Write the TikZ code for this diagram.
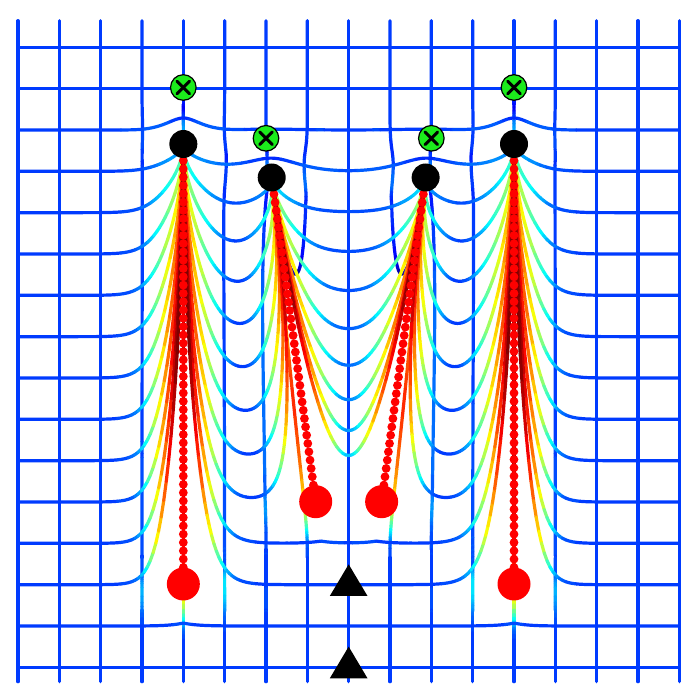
\documentclass[tikz,border=0pt]{standalone}
\definecolor{gmgreen}{RGB}{28,236,28}
\tikzset{
  blackdisc/.style={circle,fill=black,inner sep=0pt,minimum size=14pt},
  reddisc/.style={circle,fill=red,inner sep=0pt,minimum size=16.5pt},
  greendisc/.style={circle,fill=gmgreen,draw=black,line width=0.6pt,inner sep=0pt,minimum size=12.8pt},
  crossline/.style={line width=1.5pt,line cap=round},
  bead/.style={fill=red},
  marktri/.style={fill=black}
}
\newcount\gmN
\newcount\gmI
\newif\ifgmfirst
\newif\ifgmrun
\def\gmset#1#2{\expandafter\def\csname #1\endcsname{#2}}
\def\gmsetx#1#2{\expandafter\edef\csname #1\endcsname{#2}}
\def\gmv#1#2{\csname gm#1#2\endcsname}

% jet colours
\gmI=0
\loop
  \pgfmathsetmacro\gmr{max(0,min(1,1.5-abs(4*\the\gmI/60-3)))}%
  \pgfmathsetmacro\gmg{max(0,min(1,1.5-abs(4*\the\gmI/60-2)))}%
  \pgfmathsetmacro\gmb{max(0,min(1,1.5-abs(4*\the\gmI/60-1)))}%
  \edef\gmdo{\noexpand\definecolor{gmjet\the\gmI}{rgb}{\gmr,\gmg,\gmb}}\gmdo
\ifnum\gmI<60 \advance\gmI by 1 \repeat

% fingers: tip (tx,ty), shear kap, mean core c, captured rows Ya..Yb, reach widths, tail widths
\gmset{gmtx1}{183.33}\gmset{gmty1}{144}\gmset{gmkap1}{0}\gmset{gmc1}{183.33}\gmset{gmYa1}{171.33}\gmset{gmYb1}{584.67}
\gmset{gmwLa1}{25}\gmset{gmwLb1}{14}\gmset{gmwRa1}{25}\gmset{gmwRb1}{14}\gmset{gmWL1}{45}\gmset{gmWR1}{75}
\gmset{gmtx2}{271.7}\gmset{gmty2}{177.5}\gmset{gmkap2}{0.13572}\gmset{gmc2}{296}\gmset{gmYa2}{212.67}\gmset{gmYb2}{502}
\gmset{gmwLa2}{23}\gmset{gmwLb2}{15}\gmset{gmwRa2}{17}\gmset{gmwRb2}{12.5}\gmset{gmWL2}{75}\gmset{gmWR2}{1000}
\gmset{gmtx3}{425.63}\gmset{gmty3}{177.5}\gmset{gmkap3}{-0.13572}\gmset{gmc3}{401.33}\gmset{gmYa3}{212.67}\gmset{gmYb3}{502}
\gmset{gmwLa3}{17}\gmset{gmwLb3}{12.5}\gmset{gmwRa3}{23}\gmset{gmwRb3}{15}\gmset{gmWL3}{1000}\gmset{gmWR3}{75}
\gmset{gmtx4}{514}\gmset{gmty4}{144}\gmset{gmkap4}{0}\gmset{gmc4}{514}\gmset{gmYa4}{171.33}\gmset{gmYb4}{584.67}
\gmset{gmwLa4}{25}\gmset{gmwLb4}{14}\gmset{gmwRa4}{25}\gmset{gmwRb4}{14}\gmset{gmWL4}{75}\gmset{gmWR4}{45}
% bumps above the tips
\gmset{gmcu1}{183.33}\gmset{gmYc1}{130}\gmset{gmH1}{12}\gmset{gmwu1}{25}\gmset{gmsg1}{20}
\gmset{gmcu2}{271.7}\gmset{gmYc2}{171.33}\gmset{gmH2}{13}\gmset{gmwu2}{40}\gmset{gmsg2}{25}
\gmset{gmcu3}{425.63}\gmset{gmYc3}{171.33}\gmset{gmH3}{13}\gmset{gmwu3}{40}\gmset{gmsg3}{25}
\gmset{gmcu4}{514}\gmset{gmYc4}{130}\gmset{gmH4}{12}\gmset{gmwu4}{25}\gmset{gmsg4}{20}

\def\gmSetA#1{%
  \ifdim\gmYY pt<\gmv{Ya}{#1}pt
    \pgfmathsetmacro\gmtmp{(\gmv{Ya}{#1}-\gmYY)/15}%
    \ifdim\gmtmp pt>3pt \gmsetx{gmA#1}{0}\else\pgfmathsetmacro\gmtmp{exp(-\gmtmp*\gmtmp)}\gmsetx{gmA#1}{\gmtmp}\fi
    \gmsetx{gmt#1}{0}%
  \else
    \ifdim\gmYY pt>\gmv{Yb}{#1}pt
      \pgfmathsetmacro\gmtmp{(\gmYY-\gmv{Yb}{#1})/18.3}%
      \ifdim\gmtmp pt>3pt \gmsetx{gmA#1}{0}\else\pgfmathsetmacro\gmtmp{exp(-\gmtmp*\gmtmp)}\gmsetx{gmA#1}{\gmtmp}\fi
      \gmsetx{gmt#1}{1}%
    \else
      \gmsetx{gmA#1}{1}%
      \pgfmathsetmacro\gmtmp{(\gmYY-\gmv{Ya}{#1})/(\gmv{Yb}{#1}-\gmv{Ya}{#1})}\gmsetx{gmt#1}{\gmtmp}%
    \fi
  \fi
  \pgfmathsetmacro\gmtmp{\gmv{wLa}{#1}+(\gmv{wLb}{#1}-\gmv{wLa}{#1})*\gmv{t}{#1}}\gmsetx{gmwL#1}{\gmtmp}%
  \pgfmathsetmacro\gmtmp{\gmv{wRa}{#1}+(\gmv{wRb}{#1}-\gmv{wRa}{#1})*\gmv{t}{#1}}\gmsetx{gmwR#1}{\gmtmp}%
}
\def\gmSetGy#1{%
  \pgfmathsetmacro\gmtmp{abs(\gmYY-\gmv{Yc}{#1})/\gmv{sg}{#1}}%
  \ifdim\gmtmp pt<3pt \pgfmathsetmacro\gmtmp{exp(-\gmtmp*\gmtmp)}\gmsetx{gmGy#1}{\gmtmp}\else\gmsetx{gmGy#1}{0}\fi
}
\def\gmFinger#1{%
  \ifdim\gmv{A}{#1}pt>0.0001pt
    \pgfmathsetmacro\gmSp{\gmS-\gmv{kap}{#1}*(\gmYY-\gmv{ty}{#1})}%
    \pgfmathsetmacro\gmR{\gmSp-\gmv{tx}{#1}}%
    \ifdim\gmR pt<0pt
      \pgfmathsetmacro\gmRa{abs(\gmR)}%
      \pgfmathsetmacro\gmR{\gmRa/\gmv{wL}{#1}+(\gmRa/\gmv{WL}{#1})*(\gmRa/\gmv{WL}{#1})}%
    \else
      \let\gmRa\gmR
      \pgfmathsetmacro\gmR{\gmRa/\gmv{wR}{#1}+(\gmRa/\gmv{WR}{#1})*(\gmRa/\gmv{WR}{#1})}%
    \fi
    \ifdim\gmR pt<9pt
      \pgfmathsetmacro\gmF{\gmv{A}{#1}*exp(-\gmR)}%
      \pgfmathsetmacro\gmX{\gmX+\gmF*\gmF*(\gmv{tx}{#1}-\gmSp)+\gmv{kap}{#1}*\gmF*(\gmv{ty}{#1}-\gmYY)}%
      \pgfmathsetmacro\gmY{\gmY+\gmF*(\gmv{ty}{#1}-\gmYY)}%
    \fi
  \fi}
\def\gmBump#1{%
  \ifdim\gmv{Gy}{#1}pt>0.001pt
    \pgfmathsetmacro\gmtmp{abs(\gmS-\gmv{cu}{#1})/\gmv{wu}{#1}}%
    \ifdim\gmtmp pt<3pt
      \pgfmathsetmacro\gmG{\gmv{Gy}{#1}*exp(-\gmtmp*\gmtmp)}%
      \pgfmathsetmacro\gmY{\gmY-\gmv{H}{#1}*\gmG}%
      \pgfmathsetmacro\gmX{\gmX-0.2*(\gmS-\gmv{cu}{#1})*\gmG}%
    \fi
  \fi}
\def\gmDeform{%
  \let\gmX\gmS \let\gmY\gmYY
  \gmFinger1\gmFinger2\gmFinger3\gmFinger4
  \gmBump1\gmBump2\gmBump3\gmBump4}

\def\gmNewRun{\let\gmCur\gmIdx
  \edef\gmPath{\noexpand\pgfpathmoveto{\noexpand\pgfqpoint{\gmPX pt}{\gmPY pt}}%
    \noexpand\pgfpathlineto{\noexpand\pgfqpoint{\gmX pt}{\gmY pt}}}%
  \gmruntrue}
\def\gmAppend{\edef\gmPath{\unexpanded\expandafter{\gmPath}%
    \noexpand\pgfpathlineto{\noexpand\pgfqpoint{\gmX pt}{\gmY pt}}}}
\def\gmFlush{\ifgmrun\pgfsetstrokecolor{gmjet\gmCur}\gmPath\pgfusepath{stroke}\gmrunfalse\fi}

\def\gmPoint#1{%
  \edef\gmS{#1}%
  \gmDeform
  \ifgmfirst
    \gmfirstfalse
  \else
    \pgfmathsetmacro\gmDS{abs(\gmS-\gmPS)+abs(\gmYY-\gmPYY)}%
    \pgfmathsetmacro\gmL{veclen(\gmX-\gmPX,\gmY-\gmPY)/max(\gmDS,0.01)}%
    \ifdim\gmL pt<0.05pt \def\gmL{0.05}\fi
    \ifdim\gmL pt<1pt \def\gmGain{0.1}\else\def\gmGain{0.28}\fi
    \pgfmathtruncatemacro\gmIdx{max(0,min(60,round(60*(0.19+\gmGain*ln(\gmL)))))}%
    \ifgmrun
      \ifnum\gmIdx=\gmCur\relax \gmAppend\else\gmFlush\gmNewRun\fi
    \else
      \gmNewRun
    \fi
  \fi
  \let\gmPX\gmX \let\gmPY\gmY \let\gmPS\gmS \let\gmPYY\gmYY}

% branch toward a core: s = c + L*(n/N)^1.7, n = N-1 ... 0
\def\gmBranchIn#1#2#3{\edef\gmBc{#1}\edef\gmBL{#2}\def\gmBN{#3}\gmN=#3\relax\advance\gmN by -1\relax\gmBInStep}
\def\gmBInStep{%
  \ifnum\gmN=0 \let\gmSS\gmBc\else\pgfmathsetmacro\gmSS{\gmBc+(\gmBL)*(\the\gmN/\gmBN)^1.7}\fi
  \gmPoint{\gmSS}%
  \ifnum\gmN>0 \advance\gmN by -1\relax\expandafter\gmBInStep\fi}
% branch away from a core: n = 1 ... N
\def\gmBranchOut#1#2#3{\edef\gmBc{#1}\edef\gmBL{#2}\def\gmBN{#3}\gmN=1\relax\gmBOutStep}
\def\gmBOutStep{%
  \pgfmathsetmacro\gmSS{\gmBc+(\gmBL)*(\the\gmN/\gmBN)^1.7}%
  \gmPoint{\gmSS}%
  \ifnum\gmN<\gmBN\relax \advance\gmN by 1\relax\expandafter\gmBOutStep\fi}

\def\gmHLine#1{%
  \edef\gmYY{#1}%
  \gmSetA1\gmSetA2\gmSetA3\gmSetA4\gmSetGy1\gmSetGy2\gmSetGy3\gmSetGy4
  \pgfmathsetmacro\gmCtwo{271.7+0.13572*(max(212.67,min(502,#1))-177.5)}%
  \pgfmathsetmacro\gmCthree{697.33-\gmCtwo}%
  \pgfmathsetmacro\gmLa{(\gmCtwo-183.33)/2}%
  \pgfmathsetmacro\gmLb{348.67-\gmCtwo}%
  \gmfirsttrue\gmrunfalse
  \gmPoint{18}\gmPoint{43}\gmPoint{68}\gmPoint{93.33}%
  \gmBranchIn{183.33}{-90}{36}%
  \gmBranchOut{183.33}{\gmLa}{36}%
  \gmBranchIn{\gmCtwo}{-\gmLa}{36}%
  \gmBranchOut{\gmCtwo}{\gmLb}{28}%
  \gmBranchIn{\gmCthree}{-\gmLb}{28}%
  \gmBranchOut{\gmCthree}{\gmLa}{36}%
  \gmBranchIn{514}{-\gmLa}{36}%
  \gmBranchOut{514}{90}{36}%
  \gmPoint{629}\gmPoint{654}\gmPoint{679.33}%
  \gmFlush}

\def\gmVPrep#1{%
  \pgfmathsetmacro\gmtmp{abs(\gmSfix-\gmv{c}{#1})}%
  \ifdim\gmtmp pt<130pt \edef\gmVSet{\unexpanded\expandafter{\gmVSet}\noexpand\gmSetA#1}\else\gmsetx{gmA#1}{0}\fi
  \pgfmathsetmacro\gmtmp{abs(\gmSfix-\gmv{cu}{#1})/\gmv{wu}{#1}}%
  \ifdim\gmtmp pt<3pt \edef\gmVSet{\unexpanded\expandafter{\gmVSet}\noexpand\gmSetGy#1}\else\gmsetx{gmGy#1}{0}\fi}
\def\gmVPoint#1{\edef\gmYY{#1}\gmVSet\gmPoint{\gmSfix}}
\def\gmVZone#1#2#3{\def\gmVend{#2}\def\gmVstep{#3}\edef\gmVcur{#1}\gmVZStep}
\def\gmVZStep{%
  \pgfmathsetmacro\gmVcur{min(\gmVend,\gmVcur+\gmVstep)}%
  \gmVPoint{\gmVcur}%
  \ifdim\gmVcur pt<\gmVend pt\expandafter\gmVZStep\fi}
\def\gmVLine#1{%
  \edef\gmSfix{#1}\def\gmVSet{}%
  \gmVPrep1\gmVPrep2\gmVPrep3\gmVPrep4
  \gmfirsttrue\gmrunfalse
  \gmVPoint{20.67}%
  \gmVZone{20.67}{100}{8}\gmVZone{100}{230}{2.5}\gmVZone{230}{490}{4}%
  \gmVZone{490}{670}{1.5}\gmVZone{670}{681.67}{4}%
  \gmFlush}
\def\gmStraight#1#2#3#4{\pgfsetstrokecolor{gmjet11}%
  \pgfpathmoveto{\pgfqpoint{#1pt}{#2pt}}\pgfpathlineto{\pgfqpoint{#3pt}{#4pt}}\pgfusepath{stroke}}

\begin{document}
\begin{tikzpicture}
\useasboundingbox (0,0) rectangle (348pt,348.5pt);
\fill[white] (0,0) rectangle (348pt,348.5pt);
\begin{pgfscope}
  \pgftransformcm{0.5}{0}{0}{-0.5}{\pgfpoint{0pt}{348.5pt}}
  \pgfsetlinewidth{1.6pt}\pgfsetroundcap\pgfsetroundjoin
  % vertical grid lines
  \gmStraight{18}{20.67}{18}{681.67}
  \gmStraight{59.33}{20.67}{59.33}{681.67}
  \gmStraight{100.67}{20.67}{100.67}{681.67}
  \gmStraight{348.67}{20.67}{348.67}{681.67}
  \gmStraight{596.67}{20.67}{596.67}{681.67}
  \gmStraight{638}{20.67}{638}{681.67}
  \gmStraight{679.33}{20.67}{679.33}{681.67}
  \gmVLine{142}\gmVLine{183.33}\gmVLine{224.67}\gmVLine{266}\gmVLine{307.33}
  \gmVLine{390}\gmVLine{431.33}\gmVLine{472.67}\gmVLine{514}\gmVLine{555.33}
  % horizontal grid lines
  \gmStraight{18}{47.33}{679.33}{47.33}
  \gmStraight{18}{88.67}{679.33}{88.67}
  \gmHLine{130}\gmHLine{171.33}\gmHLine{212.67}\gmHLine{254}\gmHLine{295.33}
  \gmHLine{336.67}\gmHLine{378}\gmHLine{419.33}\gmHLine{460.67}\gmHLine{502}
  \gmHLine{543.33}\gmHLine{584.67}\gmHLine{626}
  \gmStraight{18}{667.33}{679.33}{667.33}
\end{pgfscope}
\begin{scope}[x=0.5pt,y=-0.5pt,shift={(0pt,348.5pt)}]
  \foreach \k in {1,...,52} {\fill[bead] (183.33,{144+8.30189*\k}) circle[radius=4.4];}
  \foreach \k in {1,...,52} {\fill[bead] (514,{144+8.30189*\k}) circle[radius=4.4];}
  \foreach \k in {1,...,38} {\fill[bead] ({271.7+1.12821*\k},{177.5+8.31282*\k}) circle[radius=4.4];}
  \foreach \k in {1,...,38} {\fill[bead] ({425.63-1.12821*\k},{177.5+8.31282*\k}) circle[radius=4.4];}
  \node[reddisc] (R1) at (183.33,584) {};
  \node[reddisc] (R2) at (315.7,501.7) {};
  \node[reddisc] (R3) at (381.63,501.7) {};
  \node[reddisc] (R4) at (514,584) {};
  \node[blackdisc] (B1) at (183.33,144) {};
  \node[blackdisc] (B2) at (271.7,177.5) {};
  \node[blackdisc] (B3) at (425.63,177.5) {};
  \node[blackdisc] (B4) at (514,144) {};
  \node[greendisc] (G1) at (183.33,87.5) {};
  \node[greendisc] (G2) at (266,138.3) {};
  \node[greendisc] (G3) at (431.33,138.3) {};
  \node[greendisc] (G4) at (514,87.5) {};
  \foreach \g in {G1,G2,G3,G4} {
    \draw[crossline] (\g.center) ++(-6.3,-6.3) -- ++(12.6,12.6);
    \draw[crossline] (\g.center) ++(-6.3,6.3) -- ++(12.6,-12.6);
  }
  \fill[marktri] (348.67,564.3) -- (329.8,596) -- (367.5,596) -- cycle;
  \fill[marktri] (348.67,646.6) -- (329.8,678.3) -- (367.5,678.3) -- cycle;
\end{scope}
\end{tikzpicture}
\end{document}
